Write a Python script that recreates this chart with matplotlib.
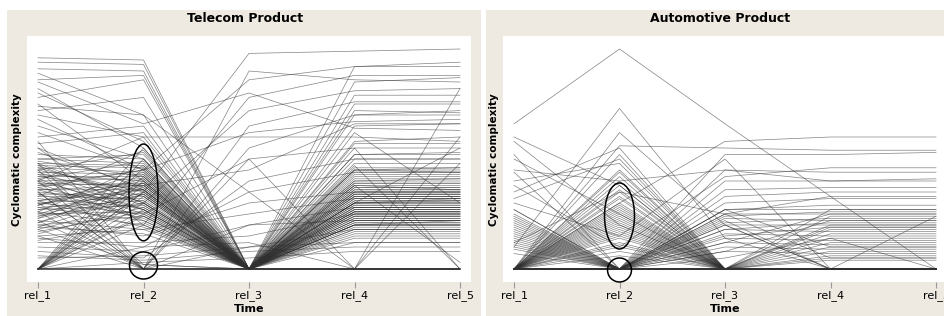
import matplotlib
matplotlib.use("Agg")
import matplotlib.pyplot as plt
from matplotlib.patches import Ellipse, Rectangle

# ____________________________________________________________________
# DATA  (cyclomatic complexity per module, one list per release)

releases = ["rel_1", "rel_2", "rel_3", "rel_4", "rel_5"]

tel_r1 = [96, 94, 91, 89, 86, 82, 78, 75, 72, 70,
          0, 0, 62, 55, 48, 0, 40, 35, 30, 25,
          52, 50, 48, 46, 44, 42, 40, 38, 36, 34,
          0, 0, 0, 0, 0, 0, 0, 0, 0, 0,
          48, 40, 30, 22, 15, 58, 35, 26, 45, 18,
          32, 30, 28, 27, 25, 24, 22, 21, 20, 19,
          50, 47, 45, 43, 41, 39, 37, 33, 31, 29,
          20, 15, 10, 0, 12, 8, 5, 0, 14, 6,
          43, 36, 28, 0, 0, 38, 26, 45, 0, 53,
          33, 31, 29, 27, 23, 17, 39, 41, 46, 49,
          0, 60, 65, 57, 68, 80, 0, 55, 74, 85,
          35, 37, 24, 21, 19, 44, 42, 34, 16, 13,
          26, 23, 31, 36, 18, 29, 0, 0, 40, 47]
tel_r2 = [95, 93, 90, 70, 88, 55, 86, 40, 78, 60,
          35, 0, 45, 20, 30, 0, 60, 0, 25, 38,
          50, 48, 47, 44, 43, 42, 41, 39, 36, 34,
          55, 50, 46, 42, 38, 33, 30, 27, 24, 20,
          0, 0, 0, 0, 0, 0, 0, 0, 2, 2,
          28, 33, 22, 36, 26, 30, 18, 35, 24, 16,
          52, 30, 53, 27, 49, 22, 45, 54, 19, 41,
          15, 18, 8, 10, 12, 5, 6, 3, 10, 4,
          40, 38, 31, 0, 0, 45, 20, 35, 25, 37,
          32, 40, 44, 29, 34, 26, 38, 25, 33, 42,
          0, 65, 50, 62, 45, 58, 0, 36, 70, 66,
          31, 27, 37, 39, 34, 29, 36, 23, 28, 21,
          47, 43, 36, 24, 30, 39, 40, 35, 27, 46]
tel_r3 = [0, 0, 0, 0, 0, 0, 0, 0, 0, 0,
          98, 90, 86, 78, 72, 65, 60, 55, 50, 45,
          0, 0, 0, 0, 0, 0, 0, 0, 0, 0,
          0, 0, 0, 0, 0, 0, 0, 0, 0, 0,
          0, 0, 10, 0, 0, 0, 20, 0, 0, 0,
          0, 0, 0, 0, 0, 0, 0, 0, 0, 0,
          0, 0, 0, 0, 0, 0, 0, 0, 0, 0,
          30, 25, 20, 35, 15, 40, 10, 5, 12, 8,
          0, 0, 0, 0, 0, 0, 0, 0, 0, 0,
          0, 0, 0, 0, 0, 0, 0, 0, 0, 0,
          0, 0, 0, 0, 62, 0, 50, 0, 35, 80,
          0, 0, 0, 0, 0, 0, 0, 0, 0, 0,
          0, 0, 0, 0, 0, 0, 0, 0, 0, 0]
tel_r4 = [0, 30, 57, 0, 45, 20, 65, 0, 38, 52,
          99, 86, 92, 88, 81, 76, 60, 70, 0, 66,
          50, 42, 35, 40, 33, 28, 30, 25, 22, 32,
          45, 38, 0, 27, 34, 20, 36, 24, 18, 0,
          0, 0, 12, 30, 0, 26, 22, 14, 0, 40,
          37, 31, 29, 26, 34, 23, 28, 21, 19, 16,
          44, 39, 46, 43, 48, 35, 41, 36, 33, 27,
          35, 32, 28, 44, 25, 50, 18, 8, 0, 10,
          55, 47, 38, 0, 0, 0, 62, 30, 75, 70,
          24, 22, 20, 30, 17, 12, 26, 29, 31, 24,
          92, 85, 79, 72, 67, 58, 55, 52, 0, 64,
          23, 21, 32, 35, 25, 37, 28, 26, 20, 15,
          45, 39, 34, 27, 22, 18, 30, 25, 20, 33]
tel_r5 = [0, 32, 57, 0, 44, 22, 66, 0, 36, 53,
          100, 85, 92, 88, 82, 76, 58, 70, 0, 66,
          50, 42, 35, 41, 33, 28, 31, 25, 22, 32,
          46, 38, 0, 27, 34, 20, 36, 24, 18, 0,
          0, 0, 12, 30, 0, 26, 22, 14, 0, 40,
          37, 31, 29, 26, 34, 23, 28, 21, 19, 16,
          44, 39, 46, 43, 48, 35, 41, 36, 33, 27,
          35, 32, 28, 44, 25, 50, 18, 8, 0, 10,
          0, 0, 3, 82, 60, 48, 30, 55, 75, 72,
          24, 22, 20, 30, 17, 12, 26, 29, 31, 24,
          94, 87, 79, 71, 68, 60, 55, 52, 0, 63,
          23, 21, 32, 35, 25, 37, 28, 26, 20, 15,
          45, 39, 34, 27, 22, 18, 30, 25, 20, 33]

aut_r1 = [66, 10, 0, 58, 52, 0, 0, 0, 45, 40,
          0, 0, 0, 0, 0, 0, 0, 0, 0, 0,
          0, 0, 0, 0, 0, 0, 0, 0, 0, 0,
          27, 25, 23, 21, 19, 17, 15, 13, 11, 9,
          27, 24, 22, 20, 18, 16, 14, 12, 10, 7,
          0, 0, 0, 0, 0, 0, 0, 0, 0, 0,
          0, 0, 0, 0, 0, 0, 0, 0, 0, 0,
          60, 50, 35, 30, 44, 0, 38, 12, 0, 32,
          0, 0, 0, 0, 0, 0, 0, 0, 0, 0]
aut_r2 = [100, 73, 56, 20, 0, 52, 30, 0, 40, 48,
          45, 42, 38, 35, 32, 29, 26, 23, 20, 17,
          14, 12, 10, 8, 6, 24, 21, 18, 15, 11,
          0, 0, 0, 0, 0, 0, 0, 0, 0, 0,
          0, 0, 0, 0, 0, 0, 0, 0, 0, 0,
          0, 0, 0, 0, 0, 0, 0, 0, 0, 0,
          0, 0, 0, 0, 0, 0, 0, 0, 0, 0,
          38, 25, 55, 15, 0, 62, 10, 35, 28, 50,
          44, 40, 36, 33, 30, 27, 25, 22, 19, 16]
aut_r3 = [66, 14, 55, 0, 0, 0, 58, 52, 45, 0,
          0, 0, 0, 0, 0, 0, 0, 0, 0, 0,
          0, 0, 0, 0, 0, 0, 0, 0, 0, 0,
          27, 25, 23, 20, 18, 16, 14, 12, 10, 8,
          0, 0, 0, 0, 0, 0, 0, 0, 0, 0,
          45, 40, 36, 33, 30, 27, 24, 21, 18, 15,
          0, 0, 0, 27, 25, 12, 8, 22, 20, 5,
          0, 0, 0, 50, 0, 20, 42, 25, 0, 0,
          0, 0, 0, 0, 0, 0, 0, 0, 0, 0]
aut_r4 = [33, 0, 54, 0, 0, 0, 60, 52, 40, 0,
          0, 0, 0, 0, 0, 0, 0, 0, 0, 0,
          0, 0, 0, 0, 0, 14, 10, 6, 18, 4,
          27, 25, 22, 20, 17, 15, 13, 11, 9, 7,
          0, 20, 16, 0, 12, 0, 8, 0, 5, 0,
          44, 40, 37, 35, 32, 29, 26, 23, 21, 19,
          27, 24, 19, 10, 5, 25, 22, 0, 0, 14,
          0, 0, 0, 0, 0, 0, 46, 33, 0, 0,
          0, 0, 0, 0, 0, 0, 0, 0, 0, 0]
aut_r5 = [33, 0, 54, 0, 0, 0, 60, 53, 40, 0,
          0, 0, 0, 0, 0, 0, 0, 0, 0, 0,
          0, 0, 0, 0, 0, 14, 10, 6, 18, 4,
          27, 25, 22, 20, 17, 15, 13, 11, 9, 7,
          0, 20, 16, 0, 12, 0, 8, 0, 5, 0,
          44, 41, 37, 35, 32, 29, 26, 23, 21, 19,
          27, 24, 19, 10, 5, 25, 22, 0, 24, 0,
          0, 0, 0, 0, 0, 0, 46, 0, 0, 0,
          0, 0, 0, 0, 0, 0, 0, 0, 0, 0]

# ____________________________________________________________________
# LAYOUT (pixel helpers)

W, H = 944, 316
BEIGE = "#eeeae1"


def fx(px):
    return px / W


def fy(py):
    return 1 - py / H


fig = plt.figure(figsize=(W / 100, H / 100), dpi=100, facecolor="white")

# panel backgrounds (behind the axes)
fig.patches.append(Rectangle((fx(7), 0), fx(474), fy(10), transform=fig.transFigure,
                             facecolor=BEIGE, edgecolor="none", zorder=-10))
fig.patches.append(Rectangle((fx(486), 0), fx(470), fy(10), transform=fig.transFigure,
                             facecolor=BEIGE, edgecolor="none", zorder=-10))


def panel(left, cols, title, title_x, ylab_x, tall, small):
    ax = fig.add_axes([fx(left), fy(282), fx(444), (282 - 36) / H])
    ax.set_facecolor("white")
    x = range(1, 6)
    for vals in zip(*cols):
        ax.plot(x, vals, color="#303030", lw=0.5, alpha=0.6)
    ax.set_xlim(1 - 11 / 105.5, 5 + 11 / 105.5)
    ax.set_ylim(-13 / 2.2, 233 / 2.2)
    ax.set_xticks(list(x))
    ax.set_xticklabels(releases, fontsize=8)
    ax.tick_params(axis="x", length=4, width=0.8, color="#9a9a9a", pad=1.5)
    ax.set_yticks([])
    for s in ax.spines.values():
        s.set_visible(False)
    # highlight ellipses around rel_2
    for cy, w, h in (tall, small):
        ax.add_patch(Ellipse((2, cy), w, h, fill=False, edgecolor="black",
                             lw=1.1, clip_on=False, zorder=5))
    fig.text(fx(title_x), fy(19), title, ha="center", va="center",
             fontsize=9, fontweight="bold")
    fig.text(fx(left + 222), fy(309), "Time", ha="center",
             va="center", fontsize=8, fontweight="bold")
    fig.text(fx(ylab_x), fy(160), "Cyclomatic complexity", ha="center",
             va="center", rotation=90, fontsize=7.5, fontweight="bold")
    return ax


panel(27, [tel_r1, tel_r2, tel_r3, tel_r4, tel_r5], "Telecom Product", 245, 17,
      (34.8, 0.275, 44), (1.6, 0.265, 12.3))
panel(503, [aut_r1, aut_r2, aut_r3, aut_r4, aut_r5], "Automotive Product", 720, 494,
      (24.1, 0.284, 30), (-0.45, 0.227, 10.9))

fig.savefig("out.png", dpi=100, facecolor="white")
